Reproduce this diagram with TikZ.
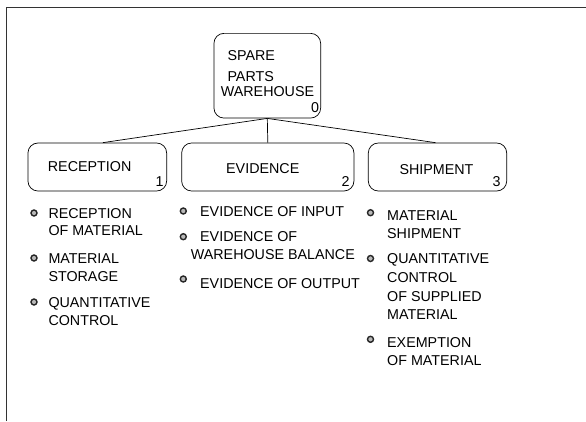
\documentclass[tikz,border=0pt]{standalone}
\usepackage{fontspec}
\setmainfont{Liberation Sans}
\begin{document}
\begin{tikzpicture}[x=1pt,y=-1pt,
  box/.style={draw, rounded corners=10pt, line width=0.7pt, inner sep=0pt},
  txt/.style={inner sep=0pt, anchor=west, text height=10.2pt, text depth=0pt, font=\fontsize{14.3}{16}\selectfont},
  num/.style={txt, anchor=center},
  bul/.style={circle, draw=black!85, line width=1.4pt, fill=gray!55, inner sep=0pt, minimum size=6pt},
  conn/.style={line width=0.7pt},
  frame/.style={line width=1pt, black!80}]
\useasboundingbox (0,0) rectangle (586,421);
\draw[frame] (6.5,421) -- (6.5,7) -- (586,7);
% boxes
\node[box, minimum width=106.7pt, minimum height=84.7pt] (root) at (267.3,75.7) {};
\node[box, minimum width=138.7pt, minimum height=48pt] (r1) at (97.3,167) {};
\node[box, minimum width=172.3pt, minimum height=48pt] (r2) at (267.8,167) {};
\node[box, minimum width=138.4pt, minimum height=48pt] (r3) at (437.5,167) {};
% connectors
\draw[conn] (root.south) -- ([xshift=5.5pt]r1.north);
\draw[conn] (root.south) -- (r2.north);
\draw[conn] (root.south) -- ([xshift=-2pt]r3.north);
% root labels
\node[txt] (t0a) at (227.3,55) {SPARE};
\node[txt] (t0b) at (227.3,76.7) {PARTS};
\node[txt] (t0c) at (220.7,91) {WAREHOUSE};
\node[num] (n0) at (315,107.3) {0};
% box labels
\node[txt] (t1) at (47.7,166) {RECEPTION};
\node[num] (n1) at (159.5,181) {1};
\node[txt] (t2) at (226,168.3) {EVIDENCE};
\node[num] (n2) at (345.7,181) {2};
\node[txt] (t3) at (399.3,169.3) {SHIPMENT};
\node[num] (n3) at (496.7,181) {3};
% column 1
\node[bul] (b11) at (34,213) {};
\node[txt] (c11a) at (48.3,213) {RECEPTION};
\node[txt] (c11b) at (48.3,230.7) {OF MATERIAL};
\node[bul] (b12) at (34,258) {};
\node[txt] (c12a) at (48.3,258) {MATERIAL};
\node[txt] (c12b) at (48.3,276.7) {STORAGE};
\node[bul] (b13) at (34,302) {};
\node[txt] (c13a) at (48.3,302) {QUANTITATIVE};
\node[txt] (c13b) at (48.3,320.7) {CONTROL};
% column 2
\node[bul] (b21) at (183.3,211) {};
\node[txt] (c21) at (200,211) {EVIDENCE OF INPUT};
\node[bul] (b22) at (183.3,236.7) {};
\node[txt] (c22a) at (200,236.7) {EVIDENCE OF};
\node[txt] (c22b) at (190.7,254.3) {WAREHOUSE BALANCE};
\node[bul] (b23) at (183.3,279) {};
\node[txt] (c23) at (200,283.3) {EVIDENCE OF OUTPUT};
% column 3
\node[bul] (b31) at (370.5,212.7) {};
\node[txt] (c31a) at (387,215) {MATERIAL};
\node[txt] (c31b) at (387,233.3) {SHIPMENT};
\node[bul] (b32) at (370.5,258.5) {};
\node[txt] (c32a) at (387,258.3) {QUANTITATIVE};
\node[txt] (c32b) at (387,277.3) {CONTROL};
\node[txt] (c32c) at (387,296) {OF SUPPLIED};
\node[txt] (c32d) at (387,314) {MATERIAL};
\node[bul] (b33) at (370.5,339.3) {};
\node[txt] (c33a) at (387,342.7) {EXEMPTION};
\node[txt] (c33b) at (387,360.7) {OF MATERIAL};
\end{tikzpicture}
\end{document}
